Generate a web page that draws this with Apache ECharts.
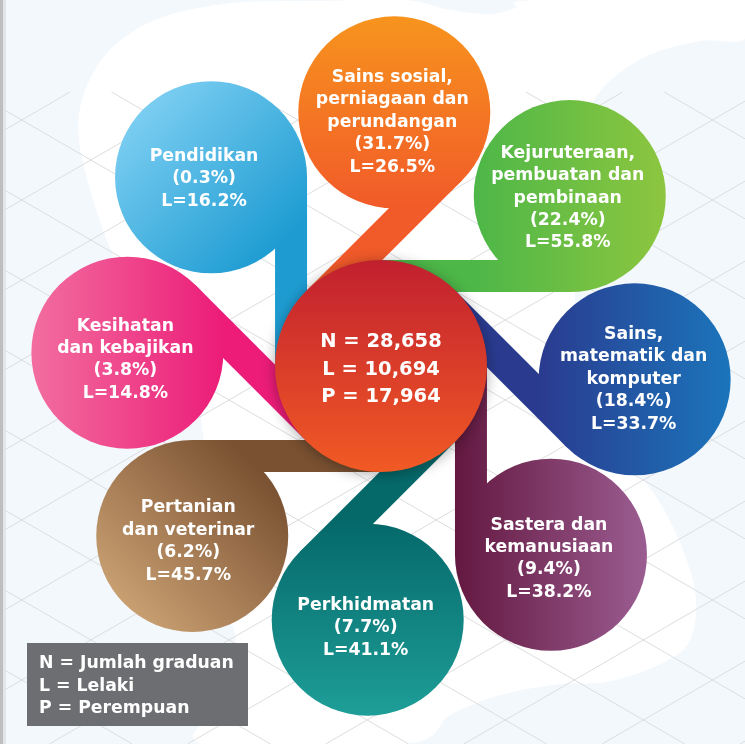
<!DOCTYPE html>
<html>
<head>
<meta charset="utf-8">
<script src="https://cdn.jsdelivr.net/npm/echarts@6/dist/echarts.min.js"></script>
<style>
html,body{margin:0;padding:0;background:#F3F8FD;}
#c{width:745px;height:744px;}
</style>
</head>
<body>
<div id="c"></div>
<script>
// ---------- DATA ----------
const categories = [
  'Sains sosial, perniagaan dan perundangan',
  'Kejuruteraan, pembuatan dan pembinaan',
  'Sains, matematik dan komputer',
  'Sastera dan kemanusiaan',
  'Perkhidmatan',
  'Pertanian dan veterinar',
  'Kesihatan dan kebajikan',
  'Pendidikan'
];
const labelLines = [
  ['Sains sosial,', 'perniagaan dan', 'perundangan'],
  ['Kejuruteraan,', 'pembuatan dan', 'pembinaan'],
  ['Sains,', 'matematik dan', 'komputer'],
  ['Sastera dan', 'kemanusiaan'],
  ['Perkhidmatan'],
  ['Pertanian', 'dan veterinar'],
  ['Kesihatan', 'dan kebajikan'],
  ['Pendidikan']
];
const sharePct = [31.7, 22.4, 18.4, 9.4, 7.7, 6.2, 3.8, 0.3];
const malePct  = [26.5, 55.8, 33.7, 38.2, 41.1, 45.7, 14.8, 16.2];
const totals = { N: 28658, L: 10694, P: 17964 };
const legendLines = ['N = Jumlah graduan', 'L = Lelaki', 'P = Perempuan'];
const rings = ['pusat', 'bidang'];

// ---------- STYLES ----------
const ringColors = [
  ['#F7941D', '#F15A29'],
  ['#8DC63F', '#4DB748'],
  ['#1B75BB', '#2A3B8F'],
  ['#9B5D91', '#631840'],
  ['#1E9E98', '#05696A'],
  ['#C89F71', '#7A5131'],
  ['#F26E9F', '#EC1C78'],
  ['#7ACDF1', '#1E9CD2']
];
const gradDir = [90, 180, 180, 180, 270, 315, 0, 45];
const labelShift = [[-2, 10], [-2, 2], [-1, 0], [-2, 4], [-2, 8], [-4, 5.5], [-2, 7], [-7, 1.5]];
const FONT = 'DejaVu Sans';

function fmt(n) { return String(n).replace(/\B(?=(\d{3})+(?!\d))/g, ','); }

// ---------- BACKGROUND DECOR ----------
function smoothClosedPoints(pts, seg) {
  const n = pts.length, out = [];
  for (let i = 0; i < n; i++) {
    const p0 = pts[(i - 1 + n) % n], p1 = pts[i], p2 = pts[(i + 1) % n], p3 = pts[(i + 2) % n];
    for (let s = 0; s < seg; s++) {
      const t = s / seg, t2 = t * t, t3 = t2 * t;
      const f = k => 0.5 * ((2 * p1[k]) + (-p0[k] + p2[k]) * t + (2 * p0[k] - 5 * p1[k] + 4 * p2[k] - p3[k]) * t2 + (-p0[k] + 3 * p1[k] - 3 * p2[k] + p3[k]) * t3);
      out.push([f(0), f(1)]);
    }
  }
  return out;
}
const blobPts = [
  [232,3],[320,1],[405,0],[450,10],[490,14],[515,8],[535,0],[745,0],[745,39],[700,41],[645,57],[603,88],
  [582,130],[576,200],[575,300],[585,390],[610,450],[645,482],[672,525],[694,585],[693,632],[672,658],[612,681],
  [560,684],[500,695],[450,715],[405,744],[200,744],[238,690],[236,640],[222,590],[210,530],[205,450],
  [190,380],[140,300],[112,252],[98,215],[86,175],[79,140],[80,108],[92,75],[115,45],[160,18]
];
const decor = [];
decor.push({ type: 'rect', shape: { x: 0, y: 0, width: 745, height: 744 }, style: { fill: '#F3F8FD' }, z: -10 });
decor.push({ type: 'polygon', shape: { points: smoothClosedPoints(blobPts, 8) }, style: { fill: '#FFFFFF' }, z: -9 });
// isometric grid
const gs = 40 / 69.07, gTop = 92;
function addLine(slope, b) {
  let xa = 0, xb = 745;
  const xy1 = (gTop - b) / slope, xy2 = (744 - b) / slope;
  const lo = Math.min(xy1, xy2), hi = Math.max(xy1, xy2);
  xa = Math.max(xa, lo); xb = Math.min(xb, hi);
  if (xb <= xa) return;
  decor.push({ type: 'line', shape: { x1: xa, y1: slope * xa + b, x2: xb, y2: slope * xb + b },
    style: { stroke: '#DCDDDF', lineWidth: 1 }, z: -8, silent: true });
}
for (let b = 27.4 - 80 * 7; b < 800; b += 80) addLine(gs, b);
for (let b = 52.6; b < 1300; b += 80) addLine(-gs, b);
// card edge
decor.push({ type: 'rect', shape: { x: 0, y: 0, width: 3, height: 744 }, style: { fill: '#BDBEC0' }, z: -7 });
decor.push({ type: 'rect', shape: { x: 3, y: 0, width: 3, height: 744 }, style: { fill: '#E3E5E8' }, z: -7 });
// legend box
decor.push({ type: 'rect', shape: { x: 27, y: 643, width: 221, height: 83 }, style: { fill: '#6D6E71' }, z: 5 });
legendLines.forEach((t, k) => {
  decor.push({ type: 'text', x: 39, y: 664 + k * 22.3, z: 6,
    style: { text: t, fill: '#FFFFFF', fontFamily: FONT, fontWeight: 'bold', fontSize: 17.3, align: 'left', verticalAlign: 'middle' } });
});

// ---------- RENDERERS ----------
function renderOuter(params, api) {
  const i = params.dataIndex;
  const cs = params.coordSys;
  const cx = cs.cx, cy = cs.cy;
  const p = api.coord([api.value(0), api.value(1)]);
  const R = 96, W = 32;
  const vx = cx - p[0], vy = cy - p[1];
  const step = Math.PI / 4;
  const dAng = Math.round(Math.atan2(vy, vx) / step) * step + step;
  const dx = Math.cos(dAng), dy = Math.sin(dAng);
  const nx = dy, ny = -dx;
  const L = vx * dx + vy * dy + 2;
  const a = [p[0] + nx * R, p[1] + ny * R];
  const b = [p[0] + nx * (R - W), p[1] + ny * (R - W)];
  const pts = [a, b, [b[0] + dx * L, b[1] + dy * L], [a[0] + dx * L, a[1] + dy * L]];
  const g = gradDir[i] * Math.PI / 180;
  const gx = Math.cos(g) * R, gy = Math.sin(g) * R;
  const fill = new echarts.graphic.LinearGradient(p[0] - gx, p[1] - gy, p[0] + gx, p[1] + gy,
    [{ offset: 0, color: ringColors[i][0] }, { offset: 1, color: ringColors[i][1] }], true);
  const text = labelLines[i].concat(['(' + sharePct[i].toFixed(1) + '%)', 'L=' + malePct[i].toFixed(1) + '%']).join('\n');
  return {
    type: 'group',
    children: [
      { type: 'polygon', shape: { points: pts }, style: { fill: fill } },
      { type: 'circle', shape: { cx: p[0], cy: p[1], r: R }, style: { fill: fill } },
      { type: 'text', x: p[0] + labelShift[i][0], y: p[1] + labelShift[i][1],
        style: { text: text, fill: '#FFFFFF', fontFamily: FONT, fontWeight: 'bold', fontSize: 17.3, lineHeight: 22.4, align: 'center', verticalAlign: 'middle' } }
    ]
  };
}
function renderCenter(params, api) {
  const p = api.coord([api.value(0), api.value(1)]);
  const R = 106;
  const fill = new echarts.graphic.LinearGradient(0, 0, 0, 1,
    [{ offset: 0, color: '#C1202F' }, { offset: 1, color: '#F15A24' }]);
  const text = ['N = ' + fmt(totals.N), 'L = ' + fmt(totals.L), 'P = ' + fmt(totals.P)].join('\n');
  return {
    type: 'group',
    children: [
      { type: 'circle', shape: { cx: p[0], cy: p[1], r: R }, style: { fill: fill, shadowBlur: 14, shadowColor: 'rgba(0,0,0,0.35)', shadowOffsetX: 0, shadowOffsetY: 2 } },
      { type: 'text', x: p[0], y: p[1] + 3.5, style: { text: text, fill: '#FFFFFF', fontFamily: FONT, fontWeight: 'bold', fontSize: 19.5, lineHeight: 27.5, align: 'center', verticalAlign: 'middle' } }
    ]
  };
}

const chart = echarts.init(document.getElementById('c'));
chart.setOption({
  animation: false,
  graphic: { elements: decor },
  polar: { center: [381, 366], radius: 254 },
  angleAxis: { type: 'category', data: categories, boundaryGap: false, startAngle: 87, clockwise: true, show: false },
  radiusAxis: { type: 'category', data: rings, boundaryGap: false, show: false },
  series: [
    { type: 'custom', coordinateSystem: 'polar', renderItem: renderOuter, z: 2,
      data: categories.map(c => [rings[1], c]) },
    { type: 'custom', coordinateSystem: 'polar', renderItem: renderCenter, z: 3,
      data: [[rings[0], categories[0]]] }
  ]
});
</script>
</body>
</html>
